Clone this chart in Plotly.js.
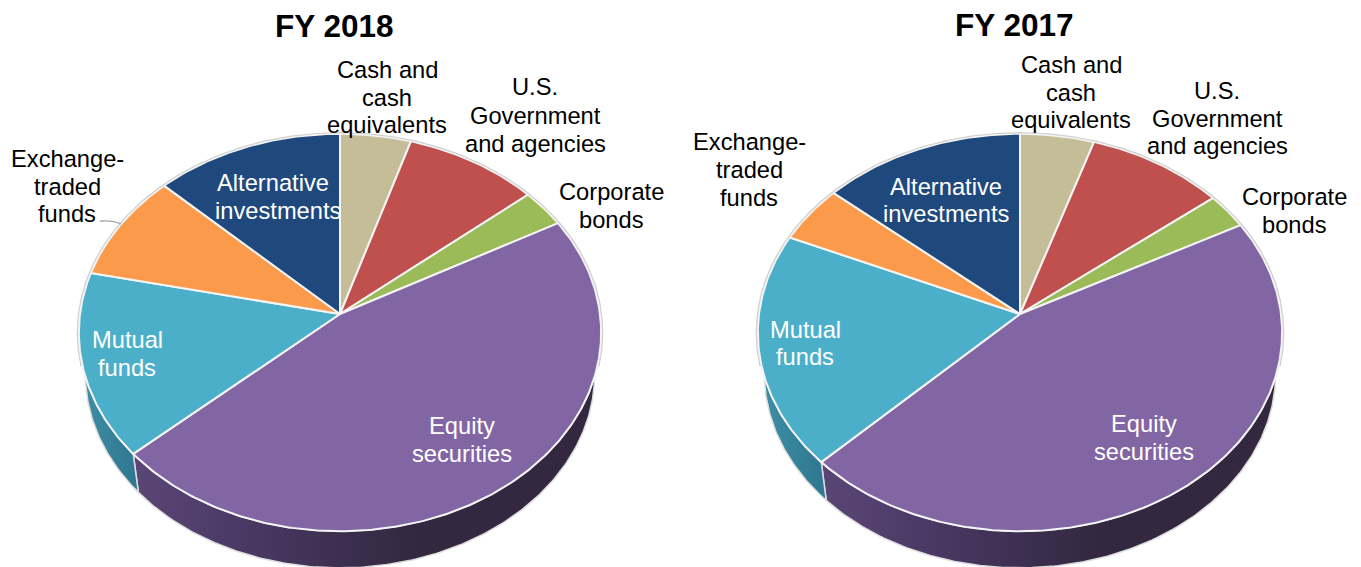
<!DOCTYPE html>
<html>
<head>
<meta charset="utf-8">
<script src="https://cdn.plot.ly/plotly-3.0.1.min.js"></script>
<style>html,body{margin:0;padding:0;background:#fff;overflow:hidden}#chart{width:1361px;height:567px}</style>
</head>
<body>
<div id="chart"></div>
<script>
// ---- data: share of the portfolio, %, clockwise from 12 o'clock ----
const categories = ["Cash and cash equivalents","U.S. Government and agencies","Corporate bonds","Equity securities","Mutual funds","Exchange-traded funds","Alternative investments"];
const fy2018 = [4.8, 9.1, 3.1, 46.4, 15.0, 8.8, 12.8];
const fy2017 = [5.0, 9.3, 2.9, 45.4, 19.0, 4.7, 13.7];
const sliceColors = ["#c4bd97","#c0504d","#9bbb59","#8266a4","#4cafc9","#fb9a4a","#1f497d"];
const wallColors = {3:[[0,"#5a4676"],[0.3,"#46355f"],[0.6,"#33283f"],[1,"#33283f"]], 4:[[0,"#408fa8"],[1,"#2d778f"]]};

// ---- text, one entry per printed line ----
const labels2018 = [
 ["Cash and",387,70,"#000"],["cash",387,98,"#000"],["equivalents",387,125,"#000"],
 ["U.S.",535,87,"#000"],["Government",535,116,"#000"],["and agencies",535,144,"#000"],
 ["Corporate",611,192,"#000"],["bonds",611,220,"#000"],
 ["Exchange-",67,159,"#000"],["traded",67,187,"#000"],["funds",67,214,"#000"],
 ["Alternative",273,183,"#fff"],["investments",278,211,"#fff"],
 ["Mutual",127,340,"#fff"],["funds",127,368,"#fff"],
 ["Equity",462,426,"#fff"],["securities",462,454,"#fff"]
];
const labels2017 = [
 ["Cash and",1071,65,"#000"],["cash",1071,93,"#000"],["equivalents",1071,120,"#000"],
 ["U.S.",1217,91,"#000"],["Government",1217,119,"#000"],["and agencies",1217,146,"#000"],
 ["Corporate",1294,197,"#000"],["bonds",1294,225,"#000"],
 ["Exchange-",749,142,"#000"],["traded",749,170,"#000"],["funds",749,198,"#000"],
 ["Alternative",946,187,"#fff"],["investments",946,214,"#fff"],
 ["Mutual",805,330,"#fff"],["funds",805,357,"#fff"],
 ["Equity",1144,424,"#fff"],["securities",1144,452,"#fff"]
];
const titles = [["FY 2018",334,26],["FY 2017",1014,25]];

// ---- tilted-disc projection (pixel-scale axes) ----
const TILT_B = 0.0932, DEPTH_Y = 197;
function project(p, thetaDeg, k, dy){
  const t = thetaDeg*Math.PI/180, w = 1 + TILT_B*Math.cos(t);
  return [p.cx + k*p.rx*Math.sin(t)/w, p.cy - k*DEPTH_Y*Math.cos(t)/w + dy];
}
function arc(p, a0, a1, k, dy){
  const n = Math.max(2, Math.ceil(Math.abs(a1-a0)*1.5)), out = [];
  for(let i=0;i<=n;i++) out.push(project(p, a0+(a1-a0)*i/n, k, dy));
  return out;
}
function poly(pts, extra){
  return Object.assign({type:"scatter",mode:"lines",x:pts.map(q=>q[0]),y:pts.map(q=>q[1]),
    fill:"toself",hoverinfo:"skip",showlegend:false}, extra);
}
function pieTraces(values, p){
  const walls=[], tops=[]; let a=0;
  values.forEach((v,i)=>{
    const a1=a+v*3.6;
    if(wallColors[i]){
      const pts = arc(p,a,a1,1,0).concat(arc(p,a1,a,0.975,42));
      pts.push(pts[0]);
      walls.push(poly(pts,{line:{color:"#dcdcdc",width:1.5},fillcolor:sliceColors[i],
        fillgradient:{type:"horizontal",colorscale:wallColors[i]},name:categories[i]+" edge"}));
    }
    const pts=[[p.cx,p.cy]].concat(arc(p,a,a1,1,0)); pts.push([p.cx,p.cy]);
    tops.push(poly(pts,{line:{color:"#f4f4f4",width:2},fillcolor:sliceColors[i],name:categories[i]}));
    a=a1;
  });
  const rim = arc(p,-105,105,1.006,0);
  const ring = {type:"scatter",mode:"lines",x:rim.map(q=>q[0]),y:rim.map(q=>q[1]),
    line:{color:"#cfcfcf",width:1.2},hoverinfo:"skip",showlegend:false};
  return walls.concat(tops,[ring]);
}

const left  = {cx:340,  cy:314, rx:260};
const right = {cx:1020, cy:314, rx:261};
const data = pieTraces(fy2018,left).concat(pieTraces(fy2017,right));

const FONT = "Liberation Sans, Arial, sans-serif";
const annotations = labels2018.concat(labels2017).map(l=>({
  text:l[0],x:l[1],y:l[2],xref:"x",yref:"y",showarrow:false,xanchor:"center",yanchor:"middle",
  font:{family:FONT,size:23.7,color:l[3]}
})).concat(titles.map(t=>({
  text:"<b>"+t[0]+"</b>",x:t[1],y:t[2],xref:"x",yref:"y",showarrow:false,xanchor:"center",yanchor:"middle",
  font:{family:FONT,size:31.5,color:"#000"}
})));

const layout = {
  width:1361,height:567,margin:{l:0,r:0,t:0,b:0},paper_bgcolor:"#fff",plot_bgcolor:"#fff",showlegend:false,
  xaxis:{range:[0,1361],visible:false,fixedrange:true},
  yaxis:{range:[567,0],visible:false,fixedrange:true},
  shapes:[{type:"path",path:"M 100 221 Q 113 220 121 224",line:{color:"#a6a6a6",width:1.3}}],
  annotations
};
Plotly.newPlot("chart",data,layout,{displayModeBar:false,staticPlot:true});
</script>
</body>
</html>
